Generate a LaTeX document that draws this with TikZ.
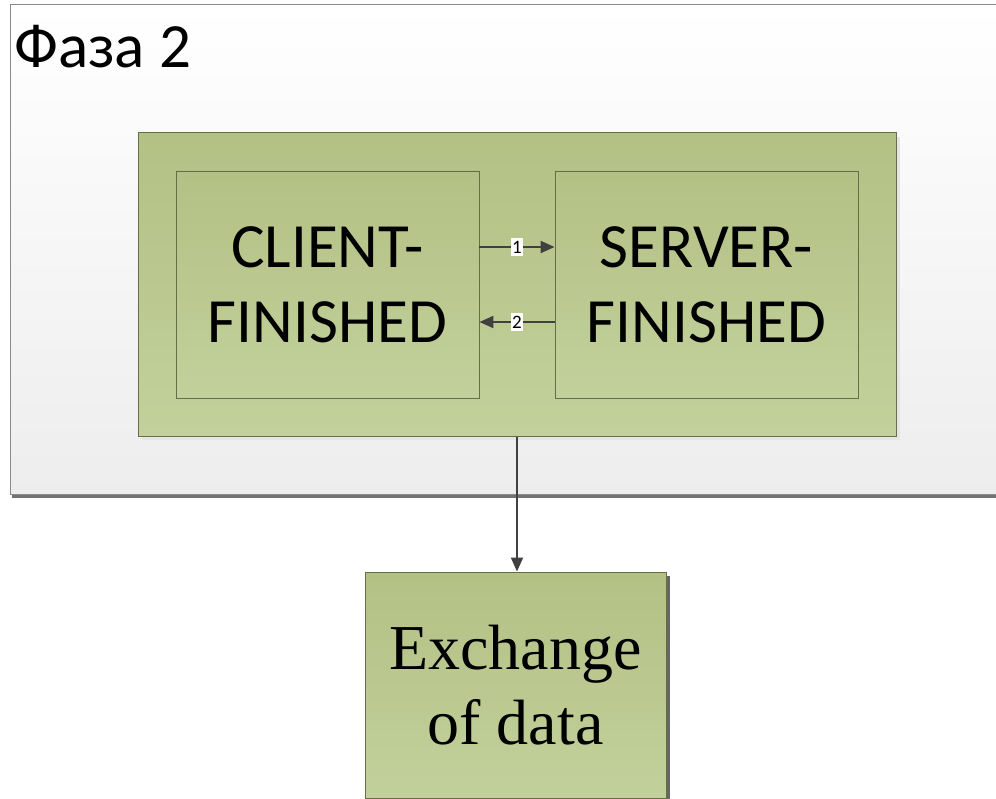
\documentclass[tikz,border=0pt]{standalone}
\usepackage{fontspec}
\setmainfont{Carlito}
\newfontfamily\serifx{Liberation Serif}
\usetikzlibrary{arrows.meta}
\definecolor{gtop}{HTML}{B3C185}
\definecolor{gbot}{HTML}{C2D09B}
\definecolor{gline}{HTML}{666E45}
\definecolor{fline}{HTML}{8A8A8A}
\definecolor{arr}{HTML}{404040}
\tikzset{
  greenbox/.style={draw=gline, line width=1pt, top color=gtop, bottom color=gbot, inner sep=0pt},
  innerbox/.style={draw=gline, line width=0.8pt, top color=gtop, bottom color=gbot, inner sep=0pt, align=center, font=\fontsize{63}{75}\selectfont},
  conn/.style={draw=arr, line width=2pt, -{Triangle[length=14pt,width=12pt]}},
  numlbl/.style={fill=white, inner xsep=1.5pt, inner ysep=3pt, font=\fontsize{19}{19}\selectfont},
}
\begin{document}
\begin{tikzpicture}[x=1pt,y=-1pt]
\useasboundingbox (0,0) rectangle (996,799);
% outer frame
\fill[black!55] (12,492) rectangle (1000,498);
\shade[top color=white, bottom color=black!7, draw=fline, line width=1pt] (10,5) rectangle (1000,494);
\node[anchor=base west, inner sep=0pt, font=\fontsize{63}{63}\selectfont] (title) at (14,68) {Фаза 2};
% group
\fill[black!10] (142,137) rectangle (900,440);
\node[greenbox, minimum width=758pt, minimum height=303pt] (grp) at (517,284.5) {};
% inner boxes
\node[innerbox, minimum width=303pt, minimum height=227pt] (client) at (327.5,284.5) {CLIENT-\\FINISHED};
\node[innerbox, minimum width=303pt, minimum height=227pt] (server) at (706.5,284.5) {SERVER-\\FINISHED};
\coordinate (a1s) at (client.east |- 0,247);
\coordinate (a1e) at (server.west |- 0,247);
\coordinate (a2s) at (server.west |- 0,322);
\coordinate (a2e) at (client.east |- 0,322);
\draw[conn] (a1s) -- node[numlbl] {1} (a1e);
\draw[conn] (a2s) -- node[numlbl] {2} (a2e);
% exchange box
\fill[black!60] (666,576) rectangle (670,799);
\node[greenbox, minimum width=301pt, minimum height=226pt, align=center, font=\serifx\fontsize{64}{75}\selectfont] (exch) at (515.5,685) {Exchange\\of data};
\draw[conn] (grp.south -| 517,0) -- (exch.north -| 517,0);
\end{tikzpicture}
\end{document}
